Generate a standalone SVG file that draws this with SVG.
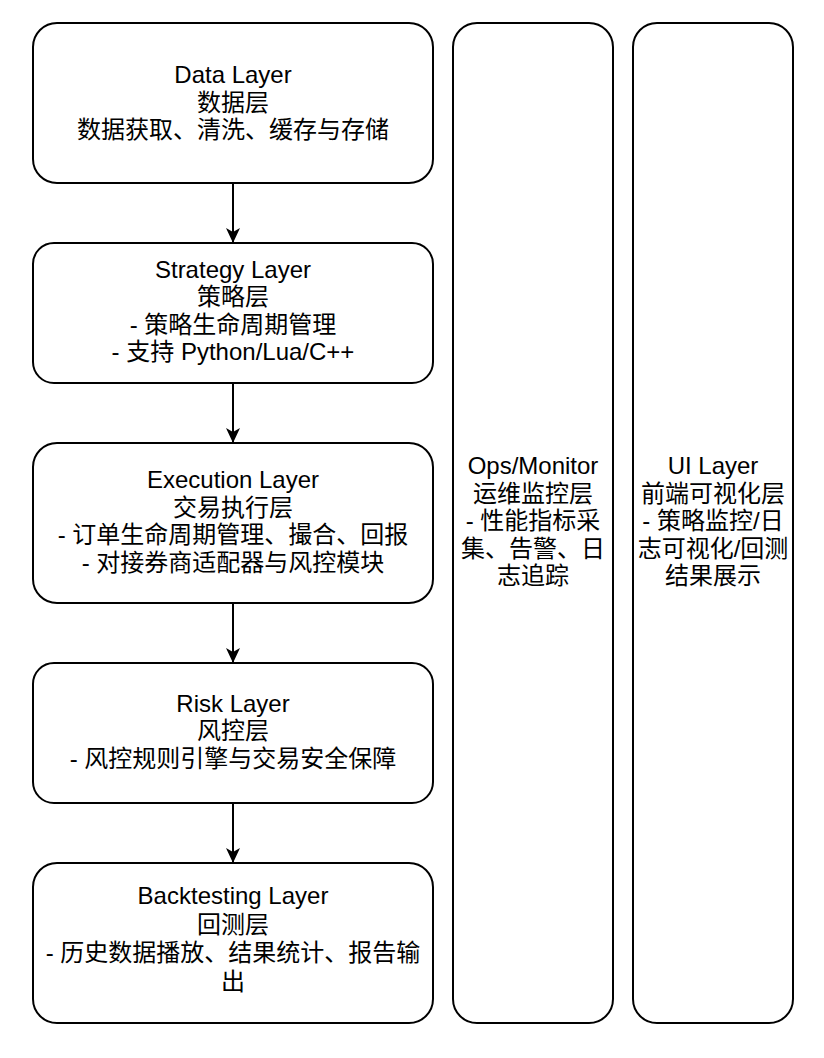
<svg xmlns="http://www.w3.org/2000/svg" width="824" height="1058" viewBox="0 0 824 1058">
<style>
.box{fill:#fff;stroke:#000;stroke-width:2}
.t{font-family:"Liberation Sans","Noto Sans CJK SC",sans-serif;font-size:24px;fill:#000;text-anchor:middle}
.edge{stroke:#000;stroke-width:2;fill:none}
</style>
<defs>
<marker id="arr" viewBox="0 0 15 14" refX="14" refY="7" markerWidth="15" markerHeight="14" markerUnits="userSpaceOnUse" orient="auto">
<path d="M0,0 L15,7 L0,14 L4,7 Z" fill="#000"/>
</marker>
</defs>
<rect width="824" height="1058" fill="#fff"/>
<g id="connectors">
<line class="edge" x1="233" y1="183" x2="233" y2="242" marker-end="url(#arr)"/>
<line class="edge" x1="233" y1="383" x2="233" y2="442" marker-end="url(#arr)"/>
<line class="edge" x1="233" y1="603" x2="233" y2="662" marker-end="url(#arr)"/>
<line class="edge" x1="233" y1="803" x2="233" y2="862" marker-end="url(#arr)"/>
</g>
<g id="data">
<rect class="box" x="33" y="23" width="400" height="160" rx="24"/>
<text class="t"><tspan x="233" y="83">Data Layer</tspan><tspan x="233" y="110.6">数据层</tspan><tspan x="233" y="138.2">数据获取、清洗、缓存与存储</tspan></text>
</g>
<g id="strategy">
<rect class="box" x="33" y="243" width="400" height="140" rx="21"/>
<text class="t"><tspan x="233" y="277.5">Strategy Layer</tspan><tspan x="233" y="305.1">策略层</tspan><tspan x="233" y="332.7">- 策略生命周期管理</tspan><tspan x="233" y="360.3">- 支持 Python/Lua/C++</tspan></text>
</g>
<g id="execution">
<rect class="box" x="33" y="443" width="400" height="160" rx="24"/>
<text class="t"><tspan x="233" y="488">Execution Layer</tspan><tspan x="233" y="515.6">交易执行层</tspan><tspan x="233" y="543.2">- 订单生命周期管理、撮合、回报</tspan><tspan x="233" y="570.8">- 对接券商适配器与风控模块</tspan></text>
</g>
<g id="risk">
<rect class="box" x="33" y="663" width="400" height="140" rx="21"/>
<text class="t"><tspan x="233" y="711.5">Risk Layer</tspan><tspan x="233" y="739.1">风控层</tspan><tspan x="233" y="766.7">- 风控规则引擎与交易安全保障</tspan></text>
</g>
<g id="backtesting">
<rect class="box" x="33" y="863" width="400" height="160" rx="24"/>
<text class="t"><tspan x="233" y="904">Backtesting Layer</tspan><tspan x="233" y="932.6">回测层</tspan><tspan x="233" y="961.2">- 历史数据播放、结果统计、报告输</tspan><tspan x="233" y="989.8">出</tspan></text>
</g>
<g id="ops">
<rect class="box" x="453" y="23" width="160" height="1000" rx="24"/>
<text class="t"><tspan x="533" y="474">Ops/Monitor</tspan><tspan x="533" y="501.6">运维监控层</tspan><tspan x="533" y="529.2">- 性能指标采</tspan><tspan x="533" y="556.8">集、告警、日</tspan><tspan x="533" y="584.4">志追踪</tspan></text>
</g>
<g id="ui">
<rect class="box" x="633" y="23" width="160" height="1000" rx="24"/>
<text class="t"><tspan x="713" y="474">UI Layer</tspan><tspan x="713" y="501.6">前端可视化层</tspan><tspan x="713" y="529.2">- 策略监控/日</tspan><tspan x="713" y="556.8">志可视化/回测</tspan><tspan x="713" y="584.4">结果展示</tspan></text>
</g>
</svg>
